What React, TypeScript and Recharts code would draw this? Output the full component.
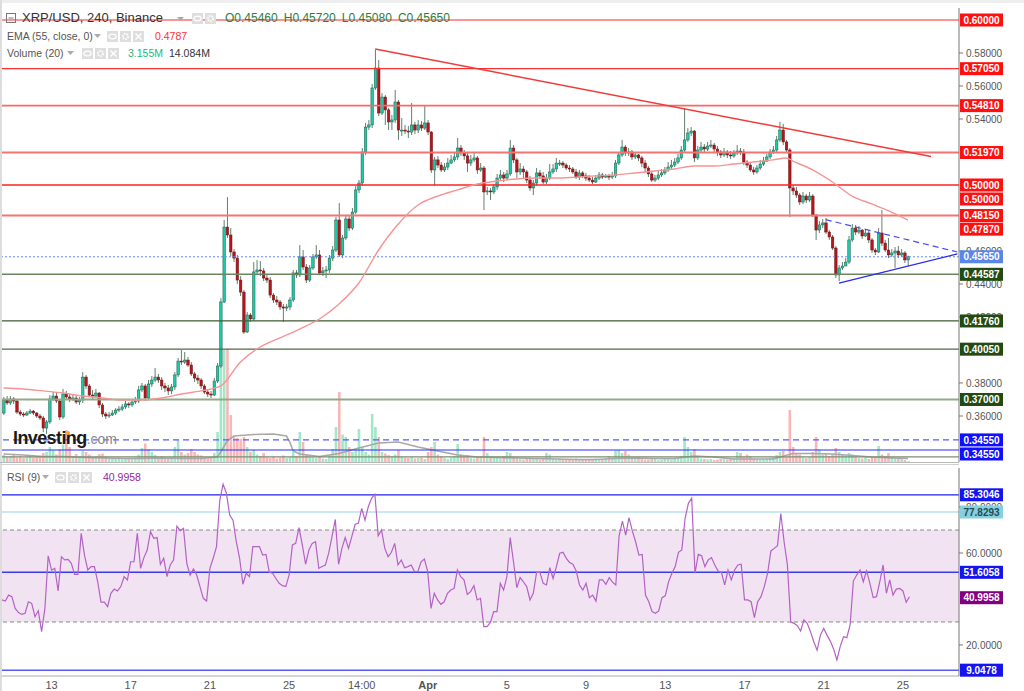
import { Bar, ComposedChart, Line, ReferenceArea, ReferenceLine, XAxis, YAxis } from 'recharts';

// 4h candles, Mar 10 12:00 -> Apr 25 08:00
const closes = [
  0.3697, 0.3679, 0.3703, 0.3691, 0.3624, 0.3612, 0.3606, 0.3618, 0.3630, 0.3618,
  0.3600, 0.3588, 0.3527, 0.3564, 0.3703, 0.3721, 0.3691, 0.3594, 0.3733, 0.3715,
  0.3703, 0.3709, 0.3685, 0.3697, 0.3836, 0.3782, 0.3727, 0.3721, 0.3739, 0.3667,
  0.3612, 0.3600, 0.3606, 0.3618, 0.3636, 0.3642, 0.3655, 0.3673, 0.3667, 0.3685,
  0.3691, 0.3758, 0.3782, 0.3709, 0.3794, 0.3818, 0.3836, 0.3818, 0.3782, 0.3770,
  0.3752, 0.3776, 0.3849, 0.3933, 0.3927, 0.3939, 0.3909, 0.3855, 0.3830, 0.3818,
  0.3782, 0.3745, 0.3733, 0.3727, 0.3812, 0.3903, 0.4291, 0.4745, 0.4697, 0.4594,
  0.4557, 0.4424, 0.4351, 0.4109, 0.4212, 0.4188, 0.4473, 0.4485, 0.4479, 0.4436,
  0.4424, 0.4333, 0.4303, 0.4291, 0.4261, 0.4254, 0.4261, 0.4303, 0.4467, 0.4455,
  0.4564, 0.4503, 0.4424, 0.4497, 0.4564, 0.4576, 0.4467, 0.4479, 0.4485, 0.4557,
  0.4606, 0.4788, 0.4576, 0.4679, 0.4794, 0.4739, 0.4836, 0.4970, 0.5012, 0.5200,
  0.5351, 0.5364, 0.5588, 0.5709, 0.5436, 0.5533, 0.5455, 0.5382, 0.5394, 0.5503,
  0.5333, 0.5333, 0.5327, 0.5321, 0.5364, 0.5333, 0.5364, 0.5345, 0.5376, 0.5321,
  0.5091, 0.5152, 0.5121, 0.5091, 0.5109, 0.5133, 0.5152, 0.5170, 0.5224, 0.5194,
  0.5176, 0.5133, 0.5152, 0.5164, 0.5091, 0.5103, 0.4958, 0.4964, 0.4958, 0.4988,
  0.5042, 0.5061, 0.5042, 0.5067, 0.5224, 0.5152, 0.5079, 0.5097, 0.5079, 0.5030,
  0.4982, 0.5012, 0.5073, 0.5055, 0.5018, 0.5042, 0.5079, 0.5097, 0.5133, 0.5133,
  0.5121, 0.5103, 0.5097, 0.5079, 0.5048, 0.5073, 0.5055, 0.5042, 0.5030, 0.5018,
  0.5042, 0.5061, 0.5048, 0.5055, 0.5048, 0.5055, 0.5133, 0.5182, 0.5230, 0.5194,
  0.5200, 0.5170, 0.5182, 0.5164, 0.5133, 0.5103, 0.5067, 0.5030, 0.5042, 0.5061,
  0.5073, 0.5091, 0.5109, 0.5121, 0.5139, 0.5164, 0.5212, 0.5273, 0.5315, 0.5327,
  0.5164, 0.5212, 0.5230, 0.5218, 0.5236, 0.5242, 0.5218, 0.5200, 0.5182, 0.5200,
  0.5182, 0.5176, 0.5194, 0.5206, 0.5200, 0.5139, 0.5121, 0.5091, 0.5079, 0.5103,
  0.5127, 0.5145, 0.5170, 0.5200, 0.5212, 0.5273, 0.5333, 0.5261, 0.5212, 0.4982,
  0.4964, 0.4939, 0.4897, 0.4933, 0.4909, 0.4933, 0.4818, 0.4727, 0.4758, 0.4770,
  0.4715, 0.4685, 0.4618, 0.4455, 0.4497, 0.4509, 0.4533, 0.4667, 0.4739, 0.4715,
  0.4727, 0.4691, 0.4709, 0.4667, 0.4606, 0.4594, 0.4709, 0.4648, 0.4606, 0.4576,
  0.4588, 0.4600, 0.4576, 0.4588, 0.4546, 0.4565,
];

const highs = [
  0.3715, 0.3721, 0.3721, 0.3715, 0.3703, 0.3636, 0.3624, 0.3630, 0.3642, 0.3636,
  0.3624, 0.3612, 0.3600, 0.3576, 0.3727, 0.3745, 0.3739, 0.3697, 0.3764, 0.3752,
  0.3733, 0.3727, 0.3721, 0.3715, 0.3867, 0.3849, 0.3794, 0.3758, 0.3764, 0.3745,
  0.3679, 0.3624, 0.3624, 0.3636, 0.3648, 0.3661, 0.3673, 0.3691, 0.3685, 0.3703,
  0.3715, 0.3782, 0.3800, 0.3794, 0.3818, 0.3842, 0.3891, 0.3855, 0.3836, 0.3800,
  0.3788, 0.3794, 0.3867, 0.3951, 0.4000, 0.3988, 0.3958, 0.3927, 0.3867, 0.3849,
  0.3830, 0.3794, 0.3758, 0.3752, 0.3830, 0.3921, 0.4315, 0.4788, 0.4927, 0.4739,
  0.4612, 0.4576, 0.4448, 0.4364, 0.4230, 0.4224, 0.4533, 0.4545, 0.4539, 0.4497,
  0.4455, 0.4442, 0.4345, 0.4327, 0.4303, 0.4279, 0.4279, 0.4321, 0.4485, 0.4485,
  0.4636, 0.4606, 0.4521, 0.4515, 0.4582, 0.4636, 0.4606, 0.4503, 0.4509, 0.4576,
  0.4630, 0.4806, 0.4891, 0.4697, 0.4818, 0.4812, 0.4861, 0.4994, 0.5030, 0.5224,
  0.5376, 0.5394, 0.5612, 0.5821, 0.5758, 0.5557, 0.5545, 0.5467, 0.5424, 0.5576,
  0.5515, 0.5406, 0.5364, 0.5358, 0.5497, 0.5382, 0.5394, 0.5388, 0.5485, 0.5394,
  0.5327, 0.5170, 0.5176, 0.5139, 0.5133, 0.5164, 0.5182, 0.5200, 0.5285, 0.5242,
  0.5212, 0.5194, 0.5182, 0.5200, 0.5176, 0.5133, 0.5115, 0.4988, 0.4982, 0.5006,
  0.5067, 0.5091, 0.5079, 0.5091, 0.5273, 0.5242, 0.5164, 0.5133, 0.5115, 0.5091,
  0.5055, 0.5030, 0.5103, 0.5091, 0.5079, 0.5067, 0.5127, 0.5127, 0.5164, 0.5152,
  0.5145, 0.5133, 0.5121, 0.5109, 0.5097, 0.5091, 0.5085, 0.5073, 0.5061, 0.5048,
  0.5061, 0.5079, 0.5073, 0.5067, 0.5067, 0.5079, 0.5152, 0.5200, 0.5273, 0.5242,
  0.5224, 0.5212, 0.5200, 0.5188, 0.5176, 0.5152, 0.5115, 0.5079, 0.5061, 0.5085,
  0.5097, 0.5109, 0.5139, 0.5152, 0.5164, 0.5188, 0.5236, 0.5467, 0.5345, 0.5351,
  0.5333, 0.5236, 0.5261, 0.5249, 0.5261, 0.5273, 0.5255, 0.5236, 0.5212, 0.5224,
  0.5212, 0.5206, 0.5212, 0.5242, 0.5224, 0.5218, 0.5152, 0.5133, 0.5109, 0.5121,
  0.5152, 0.5170, 0.5188, 0.5218, 0.5236, 0.5297, 0.5382, 0.5370, 0.5273, 0.5224,
  0.5000, 0.4988, 0.4951, 0.4958, 0.4945, 0.4958, 0.4945, 0.4824, 0.4782, 0.4794,
  0.4800, 0.4727, 0.4697, 0.4630, 0.4515, 0.4533, 0.4557, 0.4691, 0.4764, 0.4758,
  0.4751, 0.4733, 0.4727, 0.4721, 0.4679, 0.4618, 0.4739, 0.4848, 0.4667, 0.4679,
  0.4612, 0.4624, 0.4630, 0.4612, 0.4600, 0.4572,
];

const lows = [
  0.3606, 0.3667, 0.3667, 0.3673, 0.3612, 0.3600, 0.3594, 0.3600, 0.3612, 0.3606,
  0.3588, 0.3576, 0.3503, 0.3491, 0.3552, 0.3691, 0.3679, 0.3576, 0.3582, 0.3697,
  0.3685, 0.3691, 0.3673, 0.3667, 0.3679, 0.3764, 0.3715, 0.3703, 0.3709, 0.3648,
  0.3594, 0.3582, 0.3588, 0.3600, 0.3606, 0.3624, 0.3630, 0.3642, 0.3648, 0.3655,
  0.3673, 0.3679, 0.3745, 0.3691, 0.3697, 0.3776, 0.3806, 0.3800, 0.3758, 0.3745,
  0.3727, 0.3733, 0.3758, 0.3836, 0.3909, 0.3915, 0.3897, 0.3842, 0.3806, 0.3794,
  0.3764, 0.3733, 0.3715, 0.3709, 0.3721, 0.3800, 0.3891, 0.4285, 0.4679, 0.4570,
  0.4533, 0.4400, 0.4327, 0.4097, 0.4103, 0.4170, 0.4176, 0.4461, 0.4448, 0.4418,
  0.4406, 0.4315, 0.4285, 0.4273, 0.4242, 0.4170, 0.4236, 0.4242, 0.4291, 0.4436,
  0.4442, 0.4485, 0.4406, 0.4412, 0.4485, 0.4551, 0.4455, 0.4448, 0.4436, 0.4467,
  0.4539, 0.4594, 0.4564, 0.4557, 0.4667, 0.4721, 0.4727, 0.4824, 0.4951, 0.4994,
  0.5182, 0.5333, 0.5345, 0.5576, 0.5418, 0.5424, 0.5364, 0.5333, 0.5333, 0.5376,
  0.5273, 0.5297, 0.5309, 0.5285, 0.5303, 0.5309, 0.5315, 0.5327, 0.5333, 0.5303,
  0.5073, 0.4994, 0.5103, 0.5079, 0.5079, 0.5091, 0.5127, 0.5139, 0.5152, 0.5176,
  0.5152, 0.5079, 0.5115, 0.5139, 0.5067, 0.5079, 0.4848, 0.4939, 0.4909, 0.4945,
  0.4970, 0.5030, 0.5018, 0.5030, 0.5055, 0.5133, 0.5042, 0.5061, 0.5042, 0.5012,
  0.4964, 0.4939, 0.4994, 0.5036, 0.5006, 0.5006, 0.5030, 0.5067, 0.5079, 0.5115,
  0.5103, 0.5091, 0.5079, 0.5067, 0.5036, 0.5030, 0.5042, 0.5024, 0.5018, 0.5006,
  0.5012, 0.5030, 0.5036, 0.5042, 0.5030, 0.5036, 0.5042, 0.5121, 0.5170, 0.5176,
  0.5176, 0.5152, 0.5158, 0.5145, 0.5109, 0.5079, 0.5048, 0.5018, 0.5018, 0.5030,
  0.5048, 0.5061, 0.5079, 0.5097, 0.5109, 0.5127, 0.5152, 0.5200, 0.5261, 0.5297,
  0.5139, 0.5152, 0.5200, 0.5194, 0.5206, 0.5224, 0.5200, 0.5176, 0.5164, 0.5170,
  0.5164, 0.5158, 0.5164, 0.5182, 0.5182, 0.5121, 0.5103, 0.5079, 0.5061, 0.5067,
  0.5091, 0.5115, 0.5139, 0.5158, 0.5188, 0.5200, 0.5261, 0.5242, 0.5194, 0.4806,
  0.4939, 0.4921, 0.4879, 0.4885, 0.4891, 0.4897, 0.4806, 0.4667, 0.4709, 0.4739,
  0.4703, 0.4667, 0.4606, 0.4436, 0.4418, 0.4485, 0.4509, 0.4521, 0.4655, 0.4697,
  0.4703, 0.4673, 0.4685, 0.4648, 0.4588, 0.4576, 0.4588, 0.4630, 0.4594, 0.4557,
  0.4564, 0.4497, 0.4557, 0.4564, 0.4527, 0.4508,
];

const firstOpen = 0.3618;

// volume in millions
const volumes = [
  28, 20, 24, 30, 18, 22, 16, 20, 26, 18,
  22, 24, 36, 40, 60, 48, 30, 52, 70, 128,
  60, 24, 32, 20, 44, 40, 30, 18, 22, 32,
  34, 22, 16, 14, 12, 18, 10, 14, 16, 12,
  18, 30, 56, 74, 52, 40, 28, 18, 22, 14,
  16, 20, 60, 88, 40, 30, 36, 52, 40, 30,
  26, 18, 14, 16, 36, 120, 400, 448, 452, 188,
  100, 96, 92, 100, 60, 40, 48, 30, 24, 36,
  20, 16, 22, 14, 18, 26, 16, 20, 40, 24,
  120, 80, 30, 22, 18, 16, 24, 14, 12, 30,
  52, 140, 280, 110, 100, 60, 40, 50, 132, 60,
  40, 30, 192, 140, 100, 40, 34, 28, 24, 30,
  48, 22, 18, 16, 20, 14, 16, 18, 12, 40,
  60, 80, 30, 22, 16, 12, 18, 24, 72, 30,
  20, 28, 16, 14, 20, 24, 100, 36, 20, 18,
  16, 14, 24, 40, 36, 20, 14, 12, 10, 14,
  12, 16, 12, 10, 14, 36, 30, 12, 10, 14,
  10, 8, 12, 10, 14, 8, 10, 12, 10, 8,
  14, 12, 10, 14, 24, 18, 46, 48, 36, 44,
  30, 16, 14, 20, 12, 10, 10, 14, 12, 8,
  10, 12, 14, 10, 12, 16, 24, 100, 60, 40,
  52, 20, 14, 12, 10, 12, 8, 10, 12, 14,
  10, 12, 16, 40, 36, 20, 30, 24, 14, 12,
  10, 12, 14, 18, 20, 28, 40, 44, 20, 208,
  60, 36, 30, 20, 16, 20, 40, 100, 50, 30,
  36, 24, 30, 56, 40, 30, 24, 36, 30, 20,
  16, 14, 18, 12, 20, 16, 64, 30, 24, 36,
  18, 14, 16, 12, 8, 3.155,
];

const volMaIdx = [
  0, 6, 12, 18, 24, 30, 36, 42, 48, 54, 60, 65, 66, 67, 68, 70, 76, 82, 86, 87,
  88, 90, 96, 102, 108, 114, 120, 126, 132, 138, 144, 150, 156, 162, 168, 174, 180, 186, 192, 198,
  204, 210, 216, 222, 228, 234, 240, 246, 252, 258, 264, 270, 275,
];
const volMaVal = [
  32, 28, 22, 22, 18, 16, 14, 14, 16, 14, 14, 20, 40, 62, 85, 104, 110, 112, 104, 80,
  45, 32, 22, 34, 56, 76, 80, 60, 44, 28, 20, 18, 16, 14, 12, 10, 10, 14, 16, 14,
  14, 24, 20, 12, 12, 12, 34, 34, 32, 26, 20, 16, 14.084,
];

const emaIdx = [
  0, 6, 12, 18, 24, 30, 36, 42, 48, 54, 60, 66, 72, 78, 84, 90, 96, 102, 108, 114,
  120, 126, 132, 138, 144, 150, 156, 162, 168, 174, 180, 186, 192, 198, 204, 210, 216, 222, 228, 234,
  238, 240, 246, 252, 258, 264, 270, 275,
];
const emaVal = [
  0.3770, 0.3764, 0.3752, 0.3739, 0.3721, 0.3709, 0.3697, 0.3697, 0.3709, 0.3733,
  0.3752, 0.3782, 0.3927, 0.4018, 0.4073, 0.4127, 0.4188, 0.4279, 0.4406, 0.4606,
  0.4764, 0.4879, 0.4933, 0.4970, 0.5006, 0.5024, 0.5036, 0.5042, 0.5042, 0.5048,
  0.5055, 0.5061, 0.5073, 0.5085, 0.5097, 0.5115, 0.5115, 0.5127, 0.5139, 0.5152,
  0.5164, 0.5145, 0.5091, 0.5018, 0.4933, 0.4885, 0.4836, 0.4787,
];

const rsiValues = [
  39.6, 39.1, 41.7, 41.0, 35.9, 34.1, 33.3, 33.8, 38.8, 38.1,
  32.3, 34.9, 25.8, 35.9, 58.8, 52.6, 53.3, 43.5, 58.4, 57.0,
  57.2, 55.5, 50.7, 50.7, 68.6, 59.1, 52.6, 54.1, 54.1, 47.5,
  38.6, 38.6, 36.7, 42.5, 44.3, 43.5, 45.4, 49.7, 48.3, 56.2,
  56.2, 68.6, 53.3, 58.0, 61.3, 69.3, 66.4, 66.7, 55.1, 57.7,
  49.7, 54.8, 57.0, 71.7, 69.7, 70.7, 55.5, 50.4, 53.0, 50.4,
  45.4, 40.3, 39.1, 53.3, 57.7, 62.8, 83.0, 89.9, 86.0, 76.5,
  74.3, 64.9, 57.7, 46.4, 51.2, 49.7, 62.8, 62.8, 62.8, 59.1,
  59.4, 51.6, 51.2, 48.9, 46.8, 45.8, 45.4, 50.4, 63.5, 64.2,
  71.0, 63.5, 55.1, 61.3, 64.2, 64.9, 53.3, 54.1, 54.8, 59.9,
  67.1, 74.6, 55.1, 62.0, 66.7, 62.0, 67.1, 72.5, 72.9, 79.4,
  74.3, 80.1, 83.8, 85.5, 67.5, 70.0, 62.0, 58.4, 60.3, 64.2,
  54.8, 57.0, 53.6, 54.1, 54.8, 51.9, 51.9, 56.2, 57.4, 51.9,
  35.9, 42.5, 39.6, 37.7, 38.8, 42.5, 43.9, 44.6, 52.6, 49.7,
  48.3, 42.0, 43.2, 45.8, 39.6, 40.3, 28.0, 28.0, 29.8, 34.5,
  34.5, 46.8, 43.9, 49.7, 66.7, 56.2, 44.9, 49.3, 47.5, 45.4,
  39.6, 42.5, 51.6, 51.6, 46.8, 46.1, 53.6, 48.9, 54.1, 59.9,
  60.3, 57.7, 55.9, 55.1, 52.2, 46.1, 43.9, 46.8, 40.6, 41.7,
  39.1, 48.3, 48.3, 46.4, 49.3, 47.3, 46.1, 67.5, 73.9, 67.8,
  75.4, 69.6, 64.9, 59.1, 59.4, 41.7, 38.8, 34.5, 33.8, 34.8,
  40.6, 41.4, 47.5, 51.2, 54.1, 60.3, 61.3, 75.1, 81.6, 83.8,
  51.2, 59.4, 58.8, 54.1, 57.0, 58.0, 54.8, 52.2, 51.6, 46.1,
  52.6, 48.3, 52.6, 54.8, 55.1, 39.6, 39.6, 38.8, 31.9, 38.8,
  41.0, 45.4, 51.2, 60.9, 62.0, 63.2, 77.2, 64.9, 54.8, 30.1,
  29.4, 28.4, 26.1, 30.9, 29.4, 25.8, 21.4, 17.7, 24.3, 27.2,
  24.3, 21.7, 18.3, 13.5, 19.3, 23.6, 23.2, 28.7, 47.8, 50.4,
  52.6, 47.5, 52.2, 46.8, 40.6, 41.0, 47.5, 54.8, 42.5, 48.3,
  41.7, 44.3, 44.6, 43.5, 38.6, 40.9958,
];

const redLevels = [0.6, 0.5705, 0.5481, 0.5197, 0.5, 0.4815];
const greenLevels = [0.44587, 0.4176, 0.4005, 0.37];
const blueLevel = 0.3455;
const blueSolidAt = 0.3394;
const floorLineAt = 0.3352;
const rsiLevels = [85.3046, 77.8293, 51.6058, 9.0478];
const rsiBand = [30, 70];

// ticks that the level tags do not completely cover
const priceTicks = [0.36, 0.38, 0.42, 0.44, 0.46, 0.54, 0.56, 0.58];
const rsiTicks = [20, 60, 80];
const dateTickIdx = [15, 39, 63, 87, 109, 129, 153, 177, 201, 225, 249, 273];
const dateTickText = ['13', '17', '21', '25', '14:00', 'Apr', '5', '9', '13', '17', '21', '25'];

const downTrend = [{ i: 113, p: 0.5824 }, { i: 282, p: 0.5173 }];
const wedgeTop = [{ i: 250, p: 0.479 }, { i: 290, p: 0.4594 }];
const wedgeBottom = [{ i: 254, p: 0.4406 }, { i: 290, p: 0.4582 }];

const SLOTS = 291;
const FONT = '"Liberation Sans", Arial, sans-serif';
const PRICE_DOMAIN: [number, number] = [0.33212, 0.60727];
const RSI_DOMAIN: [number, number] = [6.52, 96.96];

const emaAt = new Map(emaIdx.map((k, j) => [k, emaVal[j]]));
const volMaAt = new Map(volMaIdx.map((k, j) => [k, volMaVal[j]]));

const rows = Array.from({ length: SLOTS }, (_, i) => {
  if (i >= closes.length) return { i };
  const open = i === 0 ? firstOpen : closes[i - 1];
  const close = closes[i];
  return {
    i,
    open,
    close,
    high: highs[i],
    low: lows[i],
    range: [lows[i], highs[i]],
    up: close >= open,
    vol: volumes[i],
    volMa: volMaAt.get(i),
    ema: emaAt.get(i),
    rsi: rsiValues[i],
  };
});

const last = closes.length - 1;
const lastEma = emaVal[emaVal.length - 1];

const Candle = (props: any) => {
  const d = props.payload ?? props;
  const { x, y, width, height } = props;
  if (!d || d.high == null || !Number.isFinite(y)) return null;
  const span = d.high - d.low;
  const k = span > 0 ? height / span : 0;
  const yo = y + (d.high - d.open) * k;
  const yc = y + (d.high - d.close) * k;
  const cx = x + width / 2;
  const top = Math.min(yo, yc);
  const h = Math.max(1, Math.abs(yo - yc));
  return (
    <g>
      <line x1={cx} x2={cx} y1={y} y2={y + height} stroke="#61806f" strokeWidth={1} />
      <rect
        x={cx - 1.25}
        y={top}
        width={2.5}
        height={h}
        fill={d.up ? '#1ccaa8' : '#b8141c'}
        stroke={d.up ? '#1e5b46' : '#6d1010'}
        strokeWidth={0.5}
      />
    </g>
  );
};

const VolBar = (props: any) => {
  const d = props.payload ?? props;
  const { x, y, width, height } = props;
  if (!d || d.vol == null || !Number.isFinite(y)) return null;
  return <rect x={x + width / 2 - 1.3} y={y} width={2.6} height={Math.max(0.5, height)} fill={d.up ? '#a3e7c9' : '#f8b6b6'} />;
};

const Tag = (props: any) => {
  const vb = props.viewBox || {};
  const x = (vb.x ?? 0) + (vb.width ?? 0) + 1;
  const y = (vb.y ?? 0) + (props.dy ?? 0);
  return (
    <g>
      <rect x={x} y={y - 6.5} width={43} height={13} fill={props.bg} />
      <text x={x + 21.5} y={y + 3.6} textAnchor="middle" fontSize={10} fontWeight="bold" fill={props.fg || '#fff'} fontFamily={FONT}>
        {props.text}
      </text>
    </g>
  );
};

const DateTick = (props: any) => {
  const { x, y, payload } = props;
  const k = dateTickIdx.indexOf(Number(payload?.value));
  if (k < 0) return null;
  const t = dateTickText[k];
  return (
    <text x={x} y={y + 11} textAnchor="middle" fontSize={11} fill="#555" fontFamily={FONT} fontWeight={t === 'Apr' ? 'bold' : 'normal'}>
      {t}
    </text>
  );
};

const IconBox = ({ kind }: { kind: 'eye' | 'gear' | 'x' }) => (
  <svg width={11} height={11} style={{ display: 'block', marginRight: 2 }}>
    <rect width={11} height={11} fill="#dedede" />
    {kind === 'eye' && <ellipse cx={5.5} cy={5.5} rx={3.6} ry={2.4} fill="none" stroke="#fff" strokeWidth={1.3} />}
    {kind === 'gear' && <circle cx={5.5} cy={5.5} r={2.6} fill="none" stroke="#fff" strokeWidth={1.8} strokeDasharray="1.6 1" />}
    {kind === 'x' && <path d="M2.5 2.5 L8.5 8.5 M8.5 2.5 L2.5 8.5" stroke="#fff" strokeWidth={1.4} />}
  </svg>
);

const Icons = ({ left, top, kinds }: { left: number; top: number; kinds: ('eye' | 'gear' | 'x')[] }) => (
  <div style={{ position: 'absolute', left, top, display: 'flex' }}>
    {kinds.map((k, j) => (
      <IconBox key={j} kind={k} />
    ))}
  </div>
);

const Caret = ({ left, top }: { left: number; top: number }) => (
  <svg width={7} height={4} style={{ position: 'absolute', left, top }}>
    <path d="M0 0 L7 0 L3.5 4 Z" fill="#aaa" />
  </svg>
);

const txt = (left: number, top: number, size: number, color: string, extra: any = {}) => ({
  position: 'absolute' as const,
  left,
  top,
  fontSize: size,
  color,
  lineHeight: `${size + 2}px`,
  whiteSpace: 'nowrap' as const,
  fontFamily: FONT,
  ...extra,
});

const redStroke = ['#ff2a2a', '#ff3030', '#f46a6a', '#f47474', '#ff2020', '#f47474'];
const redWidth = [1.2, 1.2, 1.8, 2, 1.3, 1.8];
const greenStroke = ['#6a8660', '#3e5a32', '#4e6a42', '#94a886'];
const greenWidth = [1.6, 1.3, 1.3, 2];
const RED_TAG = '#ff1010';
const GREEN_TAG = '#234a12';
const BLUE_TAG = '#1010ff';

export default function App() {
  const o = rows[last] as any;
  return (
    <div style={{ position: 'relative', width: 1024, height: 691, background: '#fff', overflow: 'hidden', fontFamily: FONT }}>
      <style>{`body{margin:0;}`}</style>
      <div style={{ position: 'absolute', left: 0, top: 0, width: 1024, height: 3, background: '#eeeeee' }} />
      <div style={{ position: 'absolute', left: 0, top: 0, width: 2, height: 691, background: '#dddddd' }} />

      {/* price pane */}
      <div style={{ position: 'absolute', left: 0, top: 0 }}>
        <ComposedChart width={1024} height={465} data={rows} margin={{ top: 8, right: 0, bottom: 3, left: 2 }}>
          <XAxis xAxisId="p" dataKey="i" hide />
          <XAxis xAxisId="v" dataKey="i" hide />
          <YAxis
            yAxisId="p"
            orientation="right"
            width={65}
            domain={PRICE_DOMAIN}
            allowDataOverflow
            ticks={priceTicks}
            interval={0}
            tickFormatter={(v: number) => v.toFixed(5)}
            tick={{ fontSize: 10, fill: '#555', fontFamily: FONT }}
            tickSize={4}
            tickMargin={3}
            axisLine={{ stroke: '#777' }}
            tickLine={{ stroke: '#777' }}
          />
          <YAxis yAxisId="vol" hide domain={[0, 1816]} allowDataOverflow />

          <Bar xAxisId="v" yAxisId="vol" dataKey="vol" shape={VolBar} isAnimationActive={false} />
          <Line xAxisId="v" yAxisId="vol" dataKey="volMa" type="linear" stroke="#a8a8a8" strokeWidth={1.6} dot={false} connectNulls isAnimationActive={false} />

          {redLevels.map((v, j) => (
            <ReferenceLine key={`r${j}`} xAxisId="p" yAxisId="p" y={v} stroke={redStroke[j]} strokeWidth={redWidth[j]} />
          ))}
          {greenLevels.map((v, j) => (
            <ReferenceLine key={`g${j}`} xAxisId="p" yAxisId="p" y={v} stroke={greenStroke[j]} strokeWidth={greenWidth[j]} />
          ))}
          <ReferenceLine xAxisId="p" yAxisId="p" y={closes[last]} stroke="#6a86f0" strokeWidth={1} strokeDasharray="2 2" />
          <ReferenceLine xAxisId="p" yAxisId="p" y={blueLevel} stroke="#5a5aff" strokeWidth={1.2} strokeDasharray="6 4" />
          <ReferenceLine xAxisId="p" yAxisId="p" y={blueSolidAt} stroke="#2a2aff" strokeWidth={1.2} />
          <ReferenceLine xAxisId="p" yAxisId="p" y={floorLineAt} stroke="#7d8c72" strokeWidth={1.4} />

          <Line xAxisId="p" yAxisId="p" dataKey="ema" type="monotone" stroke="#f59494" strokeWidth={1.4} dot={false} connectNulls isAnimationActive={false} />
          <Bar xAxisId="p" yAxisId="p" dataKey="range" shape={Candle} isAnimationActive={false} />

          <ReferenceLine
            xAxisId="p"
            yAxisId="p"
            ifOverflow="visible"
            segment={[{ x: downTrend[0].i, y: downTrend[0].p }, { x: downTrend[1].i, y: downTrend[1].p }]}
            stroke="#f03a3a"
            strokeWidth={1.4}
          />
          <ReferenceLine
            xAxisId="p"
            yAxisId="p"
            ifOverflow="visible"
            segment={[{ x: wedgeTop[0].i, y: wedgeTop[0].p }, { x: wedgeTop[1].i, y: wedgeTop[1].p }]}
            stroke="#4a4af0"
            strokeWidth={1.2}
            strokeDasharray="6 4"
          />
          <ReferenceLine
            xAxisId="p"
            yAxisId="p"
            ifOverflow="visible"
            segment={[{ x: wedgeBottom[0].i, y: wedgeBottom[0].p }, { x: wedgeBottom[1].i, y: wedgeBottom[1].p }]}
            stroke="#2a2ae8"
            strokeWidth={1.3}
          />
        </ComposedChart>
      </div>

      {/* price tags, drawn on top of the axis ticks */}
      <div style={{ position: 'absolute', left: 0, top: 0, pointerEvents: 'none' }}>
        <ComposedChart width={1024} height={465} data={rows} margin={{ top: 8, right: 65, bottom: 3, left: 2 }}>
          <XAxis dataKey="i" hide />
          <YAxis hide domain={PRICE_DOMAIN} allowDataOverflow />
          {redLevels.map((v, j) => (
            <ReferenceLine key={`rt${j}`} y={v} stroke="none" label={<Tag text={v.toFixed(5)} bg={RED_TAG} />} />
          ))}
          <ReferenceLine y={redLevels[4]} stroke="none" label={<Tag text={redLevels[4].toFixed(5)} bg={RED_TAG} dy={14} />} />
          <ReferenceLine y={lastEma} stroke="none" label={<Tag text={lastEma.toFixed(5)} bg={RED_TAG} dy={9} />} />
          {greenLevels.map((v, j) => (
            <ReferenceLine key={`gt${j}`} y={v} stroke="none" label={<Tag text={v.toFixed(5)} bg={GREEN_TAG} />} />
          ))}
          <ReferenceLine y={closes[last]} stroke="none" label={<Tag text={closes[last].toFixed(5)} bg="#5a86e6" />} />
          <ReferenceLine y={blueLevel} stroke="none" label={<Tag text={blueLevel.toFixed(5)} bg={BLUE_TAG} />} />
          <ReferenceLine y={blueSolidAt} stroke="none" label={<Tag text={blueLevel.toFixed(5)} bg={BLUE_TAG} dy={4} />} />
        </ComposedChart>
      </div>

      <div style={{ position: 'absolute', left: 0, top: 462, width: 959, height: 1, background: '#b8b8b8' }} />
      <div style={{ position: 'absolute', left: 0, top: 464, width: 959, height: 1, background: '#d0d0d0' }} />

      {/* RSI pane */}
      <div style={{ position: 'absolute', left: 0, top: 465 }}>
        <ComposedChart width={1024} height={226} data={rows} margin={{ top: 3, right: 0, bottom: 0, left: 2 }}>
          <XAxis
            dataKey="i"
            height={15}
            ticks={dateTickIdx}
            interval={0}
            tick={DateTick}
            tickLine={false}
            tickSize={0}
            axisLine={{ stroke: '#aaa' }}
          />
          <YAxis
            orientation="right"
            width={65}
            domain={RSI_DOMAIN}
            allowDataOverflow
            ticks={rsiTicks}
            interval={0}
            tickFormatter={(v: number) => v.toFixed(4)}
            tick={{ fontSize: 10, fill: '#555', fontFamily: FONT }}
            tickSize={4}
            tickMargin={3}
            axisLine={{ stroke: '#777' }}
            tickLine={{ stroke: '#777' }}
          />
          <ReferenceArea y1={rsiBand[0]} y2={rsiBand[1]} fill="#f1e3f1" fillOpacity={1} stroke="none" />
          <ReferenceLine y={rsiBand[1]} stroke="#8a8a8a" strokeDasharray="4 3" />
          <ReferenceLine y={rsiBand[0]} stroke="#8a8a8a" strokeDasharray="4 3" />
          <ReferenceLine y={rsiLevels[0]} stroke="#2020e8" strokeWidth={1.3} />
          <ReferenceLine y={rsiLevels[1]} stroke="#8fd3df" strokeWidth={1.2} />
          <ReferenceLine y={rsiLevels[2]} stroke="#3a3af0" strokeWidth={1.6} />
          <ReferenceLine y={rsiLevels[3]} stroke="#5a5af0" strokeWidth={1.6} />
          <Line dataKey="rsi" type="linear" stroke="#b462c6" strokeWidth={1.2} dot={false} isAnimationActive={false} />
        </ComposedChart>
      </div>

      {/* RSI tags */}
      <div style={{ position: 'absolute', left: 0, top: 465, pointerEvents: 'none' }}>
        <ComposedChart width={1024} height={226} data={rows} margin={{ top: 3, right: 65, bottom: 15, left: 2 }}>
          <XAxis dataKey="i" hide />
          <YAxis hide domain={RSI_DOMAIN} allowDataOverflow />
          <ReferenceLine y={rsiLevels[0]} stroke="none" label={<Tag text={rsiLevels[0].toFixed(4)} bg="#1414ee" />} />
          <ReferenceLine y={rsiLevels[1]} stroke="none" label={<Tag text={rsiLevels[1].toFixed(4)} bg="#86cfdc" fg="#234b55" />} />
          <ReferenceLine y={rsiLevels[2]} stroke="none" label={<Tag text={rsiLevels[2].toFixed(4)} bg="#1414ee" />} />
          <ReferenceLine y={rsiLevels[3]} stroke="none" label={<Tag text={rsiLevels[3].toFixed(4)} bg="#1414ee" />} />
          <ReferenceLine y={rsiValues[last]} stroke="none" label={<Tag text={rsiValues[last].toFixed(4)} bg="#820082" dy={1} />} />
        </ComposedChart>
      </div>

      {/* price pane legend */}
      <svg width={10} height={10} style={{ position: 'absolute', left: 6, top: 13 }}>
        <rect x={0.5} y={0.5} width={9} height={9} fill="none" stroke="#777" />
        <line x1={2.5} x2={7.5} y1={5} y2={5} stroke="#777" />
      </svg>
      <div style={txt(22, 10, 13, '#333')}>XRP/USD, 240, Binance</div>
      <Caret left={177} top={17} />
      <Icons left={192} top={13} kinds={['eye', 'gear']} />
      <div style={txt(225, 11, 12, '#2f7d3a')}>
        <span style={{ marginRight: 6 }}>O{o.open.toFixed(5)}</span>
        <span style={{ marginRight: 6 }}>H{o.high.toFixed(5)}</span>
        <span style={{ marginRight: 6 }}>L{o.low.toFixed(5)}</span>
        <span>C{o.close.toFixed(5)}</span>
      </div>

      <div style={txt(7, 30, 10.5, '#555')}>EMA (55, close, 0)</div>
      <Caret left={94} top={34} />
      <Icons left={107} top={31} kinds={['eye', 'gear', 'x']} />
      <div style={txt(155, 30, 10.5, '#ff3030')}>{lastEma.toFixed(4)}</div>

      <div style={txt(7, 47, 10.5, '#555')}>Volume (20)</div>
      <Caret left={67} top={51} />
      <Icons left={82} top={48} kinds={['eye', 'gear', 'x']} />
      <div style={txt(128, 47, 10.5, '#22b97c')}>{volumes[last].toFixed(3)}M</div>
      <div style={txt(169, 47, 10.5, '#333')}>{volMaVal[volMaVal.length - 1].toFixed(3)}M</div>

      {/* watermark */}
      <div style={txt(13, 428, 18, '#1a1a1a', { fontWeight: 900, letterSpacing: -0.6, lineHeight: '20px' })}>
        Investing<span style={{ fontSize: 14, fontWeight: 400, color: '#8a8a8a', letterSpacing: 0 }}>.com</span>
      </div>
      <div style={{ position: 'absolute', left: 66, top: 431, width: 4, height: 4, borderRadius: 2, background: '#f5a623' }} />

      {/* RSI legend */}
      <div style={txt(7, 471, 10.5, '#555')}>RSI (9)</div>
      <Caret left={42} top={475} />
      <Icons left={55} top={472} kinds={['eye', 'gear', 'x']} />
      <div style={txt(103, 471, 10.5, '#93259b')}>{rsiValues[last].toFixed(4)}</div>
    </div>
  );
}
